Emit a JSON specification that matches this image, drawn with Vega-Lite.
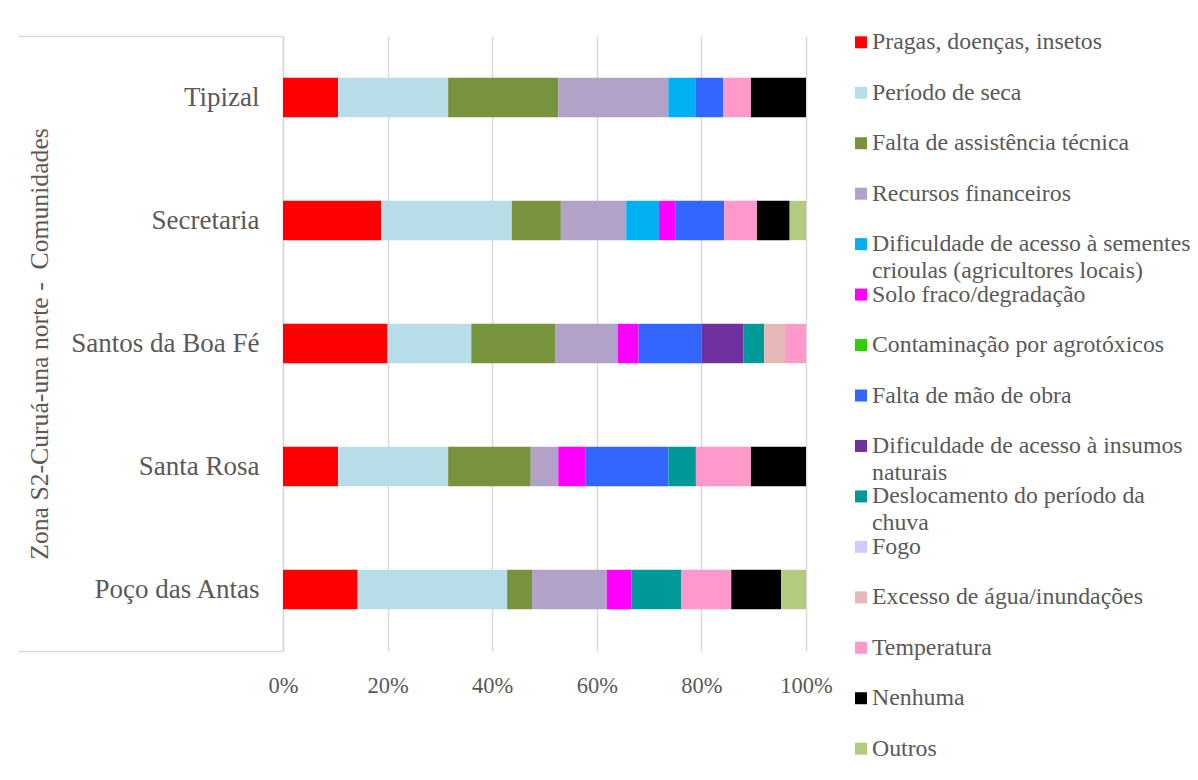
{
  "$schema": "https://vega.github.io/schema/vega-lite/v6.json",
  "padding": {"left": 17, "top": 30, "right": 5, "bottom": 5},
  "background": "white",
  "bounds": "flush",
  "spacing": 49,
  "config": {"view": {"stroke": null}, "font": "Liberation Serif"},
  "datasets": {
    "dados": [
      {"comunidade": "Tipizal", "problema": "Pragas, doenças, insetos", "ordem": 1, "valor": 2},
      {"comunidade": "Tipizal", "problema": "Período de seca", "ordem": 2, "valor": 4},
      {"comunidade": "Tipizal", "problema": "Falta de assistência técnica", "ordem": 3, "valor": 4},
      {"comunidade": "Tipizal", "problema": "Recursos financeiros", "ordem": 4, "valor": 4},
      {"comunidade": "Tipizal", "problema": "Dificuldade de acesso à sementes crioulas (agricultores locais)", "ordem": 5, "valor": 1},
      {"comunidade": "Tipizal", "problema": "Falta de mão de obra", "ordem": 8, "valor": 1},
      {"comunidade": "Tipizal", "problema": "Temperatura", "ordem": 13, "valor": 1},
      {"comunidade": "Tipizal", "problema": "Nenhuma", "ordem": 14, "valor": 2},
      {"comunidade": "Secretaria", "problema": "Pragas, doenças, insetos", "ordem": 1, "valor": 6},
      {"comunidade": "Secretaria", "problema": "Período de seca", "ordem": 2, "valor": 8},
      {"comunidade": "Secretaria", "problema": "Falta de assistência técnica", "ordem": 3, "valor": 3},
      {"comunidade": "Secretaria", "problema": "Recursos financeiros", "ordem": 4, "valor": 4},
      {"comunidade": "Secretaria", "problema": "Dificuldade de acesso à sementes crioulas (agricultores locais)", "ordem": 5, "valor": 2},
      {"comunidade": "Secretaria", "problema": "Solo fraco/degradação", "ordem": 6, "valor": 1},
      {"comunidade": "Secretaria", "problema": "Falta de mão de obra", "ordem": 8, "valor": 3},
      {"comunidade": "Secretaria", "problema": "Temperatura", "ordem": 13, "valor": 2},
      {"comunidade": "Secretaria", "problema": "Nenhuma", "ordem": 14, "valor": 2},
      {"comunidade": "Secretaria", "problema": "Outros", "ordem": 15, "valor": 1},
      {"comunidade": "Santos da Boa Fé", "problema": "Pragas, doenças, insetos", "ordem": 1, "valor": 5},
      {"comunidade": "Santos da Boa Fé", "problema": "Período de seca", "ordem": 2, "valor": 4},
      {"comunidade": "Santos da Boa Fé", "problema": "Falta de assistência técnica", "ordem": 3, "valor": 4},
      {"comunidade": "Santos da Boa Fé", "problema": "Recursos financeiros", "ordem": 4, "valor": 3},
      {"comunidade": "Santos da Boa Fé", "problema": "Solo fraco/degradação", "ordem": 6, "valor": 1},
      {"comunidade": "Santos da Boa Fé", "problema": "Falta de mão de obra", "ordem": 8, "valor": 3},
      {"comunidade": "Santos da Boa Fé", "problema": "Dificuldade de acesso à insumos naturais", "ordem": 9, "valor": 2},
      {"comunidade": "Santos da Boa Fé", "problema": "Deslocamento do período da chuva", "ordem": 10, "valor": 1},
      {"comunidade": "Santos da Boa Fé", "problema": "Excesso de água/inundações", "ordem": 12, "valor": 1},
      {"comunidade": "Santos da Boa Fé", "problema": "Temperatura", "ordem": 13, "valor": 1},
      {"comunidade": "Santa Rosa", "problema": "Pragas, doenças, insetos", "ordem": 1, "valor": 2},
      {"comunidade": "Santa Rosa", "problema": "Período de seca", "ordem": 2, "valor": 4},
      {"comunidade": "Santa Rosa", "problema": "Falta de assistência técnica", "ordem": 3, "valor": 3},
      {"comunidade": "Santa Rosa", "problema": "Recursos financeiros", "ordem": 4, "valor": 1},
      {"comunidade": "Santa Rosa", "problema": "Solo fraco/degradação", "ordem": 6, "valor": 1},
      {"comunidade": "Santa Rosa", "problema": "Falta de mão de obra", "ordem": 8, "valor": 3},
      {"comunidade": "Santa Rosa", "problema": "Deslocamento do período da chuva", "ordem": 10, "valor": 1},
      {"comunidade": "Santa Rosa", "problema": "Temperatura", "ordem": 13, "valor": 2},
      {"comunidade": "Santa Rosa", "problema": "Nenhuma", "ordem": 14, "valor": 2},
      {"comunidade": "Poço das Antas", "problema": "Pragas, doenças, insetos", "ordem": 1, "valor": 3},
      {"comunidade": "Poço das Antas", "problema": "Período de seca", "ordem": 2, "valor": 6},
      {"comunidade": "Poço das Antas", "problema": "Falta de assistência técnica", "ordem": 3, "valor": 1},
      {"comunidade": "Poço das Antas", "problema": "Recursos financeiros", "ordem": 4, "valor": 3},
      {"comunidade": "Poço das Antas", "problema": "Solo fraco/degradação", "ordem": 6, "valor": 1},
      {"comunidade": "Poço das Antas", "problema": "Deslocamento do período da chuva", "ordem": 10, "valor": 2},
      {"comunidade": "Poço das Antas", "problema": "Temperatura", "ordem": 13, "valor": 2},
      {"comunidade": "Poço das Antas", "problema": "Nenhuma", "ordem": 14, "valor": 2},
      {"comunidade": "Poço das Antas", "problema": "Outros", "ordem": 15, "valor": 1}
    ],
    "legenda": [
      {"problema": "Pragas, doenças, insetos", "ordem": 1, "linha1": "\u00a0Pragas, doenças, insetos", "linha2": ""},
      {"problema": "Período de seca", "ordem": 2, "linha1": "\u00a0Período de seca", "linha2": ""},
      {"problema": "Falta de assistência técnica", "ordem": 3, "linha1": "\u00a0Falta de assistência técnica", "linha2": ""},
      {"problema": "Recursos financeiros", "ordem": 4, "linha1": "\u00a0Recursos financeiros", "linha2": ""},
      {"problema": "Dificuldade de acesso à sementes crioulas (agricultores locais)", "ordem": 5, "linha1": "\u00a0Dificuldade de acesso à sementes", "linha2": "crioulas (agricultores locais)"},
      {"problema": "Solo fraco/degradação", "ordem": 6, "linha1": "\u00a0Solo fraco/degradação", "linha2": ""},
      {"problema": "Contaminação por agrotóxicos", "ordem": 7, "linha1": "\u00a0Contaminação por agrotóxicos", "linha2": ""},
      {"problema": "Falta de mão de obra", "ordem": 8, "linha1": "\u00a0Falta de mão de obra", "linha2": ""},
      {"problema": "Dificuldade de acesso à insumos naturais", "ordem": 9, "linha1": "\u00a0Dificuldade de acesso à insumos", "linha2": "naturais"},
      {"problema": "Deslocamento do período da chuva", "ordem": 10, "linha1": "\u00a0Deslocamento do período da", "linha2": "chuva"},
      {"problema": "Fogo", "ordem": 11, "linha1": "\u00a0Fogo", "linha2": ""},
      {"problema": "Excesso de água/inundações", "ordem": 12, "linha1": "\u00a0Excesso de água/inundações", "linha2": ""},
      {"problema": "Temperatura", "ordem": 13, "linha1": "\u00a0Temperatura", "linha2": ""},
      {"problema": "Nenhuma", "ordem": 14, "linha1": "\u00a0Nenhuma", "linha2": ""},
      {"problema": "Outros", "ordem": 15, "linha1": "\u00a0Outros", "linha2": ""}
    ]
  },
  "hconcat": [
    {
      "width": 523,
      "height": 615,
      "data": {"name": "dados"},
      "layer": [
        {
          "mark": {"type": "bar"},
          "encoding": {
            "y": {
              "field": "comunidade", "type": "nominal",
              "sort": ["Tipizal", "Secretaria", "Santos da Boa Fé", "Santa Rosa", "Poço das Antas"],
              "scale": {"paddingInner": 0.68, "paddingOuter": 0.34},
              "axis": {
                "orient": "left",
                "title": "Zona S2-Curuá-una norte -\u00a0 Comunidades",
                "titleFont": "Liberation Serif", "titleFontSize": 25.7, "titleFontWeight": "normal",
                "titleColor": "#595959", "titlePadding": 31,
                "labelFont": "Liberation Serif", "labelFontSize": 27, "labelColor": "#595959",
                "labelPadding": 24, "labelLimit": 400,
                "ticks": false, "domain": true, "domainColor": "#D9D9D9", "domainWidth": 1.5, "grid": false
              }
            },
            "x": {
              "field": "valor", "type": "quantitative", "stack": "normalize",
              "scale": {"domain": [0, 1], "nice": false},
              "axis": {
                "title": null, "format": ".0%", "values": [0, 0.2, 0.4, 0.6, 0.8, 1],
                "labelFont": "Liberation Serif", "labelFontSize": 22.5, "labelColor": "#595959",
                "labelPadding": 23, "labelFlush": false, "ticks": false, "domain": false,
                "grid": true, "gridColor": "#D9D9D9", "gridWidth": 1.5
              }
            },
            "color": {
              "field": "problema", "type": "nominal", "legend": null,
              "scale": {
                "domain": ["Pragas, doenças, insetos", "Período de seca", "Falta de assistência técnica", "Recursos financeiros", "Dificuldade de acesso à sementes crioulas (agricultores locais)", "Solo fraco/degradação", "Contaminação por agrotóxicos", "Falta de mão de obra", "Dificuldade de acesso à insumos naturais", "Deslocamento do período da chuva", "Fogo", "Excesso de água/inundações", "Temperatura", "Nenhuma", "Outros"],
                "range": ["#FF0000", "#B7DEE8", "#77933C", "#B3A2C7", "#00B0F0", "#FF00FF", "#33CC00", "#3366FF", "#7030A0", "#009999", "#CCCCFF", "#E6B9B8", "#FF99CC", "#000000", "#B2CB7E"]
              }
            },
            "order": {"field": "ordem", "type": "quantitative", "sort": "ascending"}
          }
        },
        {
          "mark": {"type": "bar", "opacity": 0},
          "encoding": {
            "y": {
              "field": "comunidade", "type": "nominal",
              "sort": ["Tipizal", "Secretaria", "Santos da Boa Fé", "Santa Rosa", "Poço das Antas"],
              "scale": {"paddingInner": 0, "paddingOuter": 0},
              "axis": {
                "orient": "left", "title": null, "labels": false, "domain": false, "grid": false,
                "ticks": true, "tickBand": "extent", "tickSize": 265, "tickColor": "#D9D9D9", "tickWidth": 1.5,
                "tickOpacity": {"condition": {"test": "datum.extra || datum.value === 'Poço das Antas'", "value": 1}, "value": 0}
              }
            },
            "x": {"field": "valor", "type": "quantitative", "stack": "normalize"}
          }
        }
      ],
      "resolve": {"scale": {"y": "independent"}, "axis": {"y": "independent"}}
    },
    {
      "width": 12,
      "height": 719,
      "data": {"name": "legenda"},
      "layer": [
        {
          "mark": {"type": "square", "size": 144, "opacity": 1},
          "encoding": {
            "y": {"field": "problema", "type": "nominal", "sort": {"field": "ordem"}, "scale": {"type": "point", "padding": 0.125}, "axis": null},
            "color": {"field": "problema", "type": "nominal", "legend": null}
          }
        },
        {
          "mark": {"type": "text", "align": "left", "baseline": "middle", "dx": 11, "font": "Liberation Serif", "fontSize": 23.8, "color": "#595959"},
          "encoding": {
            "y": {"field": "problema", "type": "nominal", "sort": {"field": "ordem"}, "axis": null},
            "text": {"field": "linha1"}
          }
        },
        {
          "mark": {"type": "text", "align": "left", "baseline": "middle", "dx": 11, "dy": 27, "font": "Liberation Serif", "fontSize": 23.8, "color": "#595959"},
          "encoding": {
            "y": {"field": "problema", "type": "nominal", "sort": {"field": "ordem"}, "axis": null},
            "text": {"field": "linha2"}
          }
        }
      ]
    }
  ]
}
